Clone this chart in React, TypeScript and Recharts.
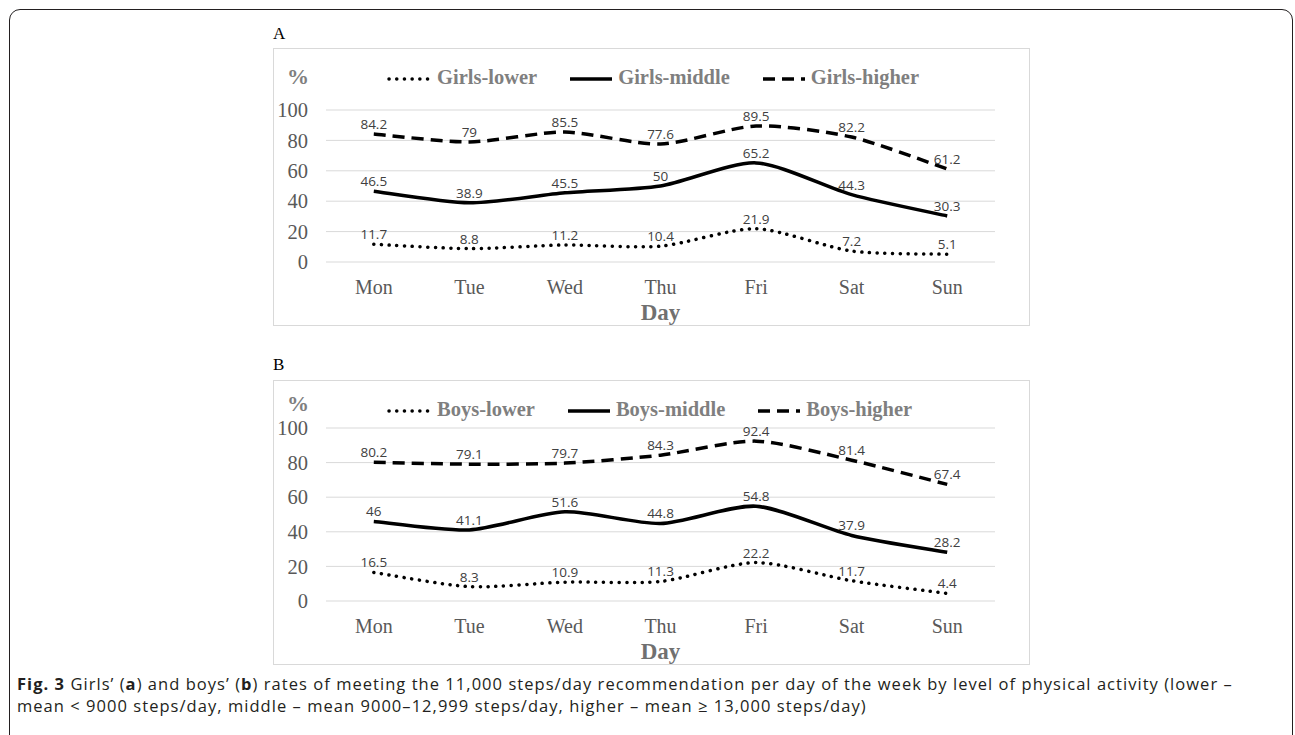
import { CartesianGrid, LabelList, Legend, Line, LineChart, XAxis, YAxis } from 'recharts';

const dias = ['Mon', 'Tue', 'Wed', 'Thu', 'Fri', 'Sat', 'Sun'];
const eixoY = [0, 20, 40, 60, 80, 100];

const meninasBaixo = [11.7, 8.8, 11.2, 10.4, 21.9, 7.2, 5.1];
const meninasMedio = [46.5, 38.9, 45.5, 50, 65.2, 44.3, 30.3];
const meninasAlto = [84.2, 79, 85.5, 77.6, 89.5, 82.2, 61.2];

const meninosBaixo = [16.5, 8.3, 10.9, 11.3, 22.2, 11.7, 4.4];
const meninosMedio = [46, 41.1, 51.6, 44.8, 54.8, 37.9, 28.2];
const meninosAlto = [80.2, 79.1, 79.7, 84.3, 92.4, 81.4, 67.4];

const nomesMeninas = ['Girls-lower', 'Girls-middle', 'Girls-higher'];
const nomesMeninos = ['Boys-lower', 'Boys-middle', 'Boys-higher'];

const chaves = ['lower', 'middle', 'higher'];

const montaDados = (baixo: number[], medio: number[], alto: number[]) =>
  dias.map((dia, i) => ({ dia, lower: baixo[i], middle: medio[i], higher: alto[i] }));

const estilos: Record<string, { dash?: string; cap: 'round' | 'butt' }> = {
  lower: { dash: '0.1 7.6', cap: 'round' },
  middle: { cap: 'butt' },
  higher: { dash: '12 7', cap: 'butt' },
};

// suavizacao tipo Excel (Catmull-Rom, um pouco mais tensa)
const TENSAO = 8;
const curvaSuave = (ctx: any) => {
  let pts: number[][] = [];
  return {
    areaStart() {},
    areaEnd() {},
    lineStart() {
      pts = [];
    },
    point(x: number, y: number) {
      pts.push([+x, +y]);
    },
    lineEnd() {
      if (!pts.length) return;
      ctx.moveTo(pts[0][0], pts[0][1]);
      for (let i = 0; i < pts.length - 1; i++) {
        const p0 = pts[i - 1] || pts[i];
        const p1 = pts[i];
        const p2 = pts[i + 1];
        const p3 = pts[i + 2] || p2;
        ctx.bezierCurveTo(
          p1[0] + (p2[0] - p0[0]) / TENSAO,
          p1[1] + (p2[1] - p0[1]) / TENSAO,
          p2[0] - (p3[0] - p1[0]) / TENSAO,
          p2[1] - (p3[1] - p1[1]) / TENSAO,
          p2[0],
          p2[1],
        );
      }
    },
  };
};

const SERIF = '"Liberation Serif", "Times New Roman", serif';
const CINZA = '#595959';

const Legenda = ({ payload, ajustePct }: any) => {
  const itens = [...(payload || [])].sort((a: any, b: any) => chaves.indexOf(a.dataKey) - chaves.indexOf(b.dataKey));
  return (
    <div style={{ position: 'relative', height: 30, lineHeight: '30px', fontFamily: SERIF }}>
      <span
        style={{ position: 'absolute', left: 13, top: ajustePct, fontSize: 22, fontWeight: 'bold', color: '#7f7f7f' }}
      >
        %
      </span>
      <div style={{ position: 'absolute', left: 113, top: 0, display: 'flex', alignItems: 'center' }}>
        {itens.map((item: any, i: number) => {
          const st = estilos[item.dataKey];
          return (
            <div key={i} style={{ display: 'flex', alignItems: 'center', marginRight: 31 }}>
              <svg width={46} height={30}>
                <line
                  x1={2}
                  x2={44}
                  y1={17}
                  y2={17}
                  stroke="#000"
                  strokeWidth={3.5}
                  strokeDasharray={st.dash}
                  strokeLinecap={st.cap}
                />
              </svg>
              <span style={{ marginLeft: 4, fontSize: 20.5, fontWeight: 'bold', color: '#7f7f7f' }}>{item.value}</span>
            </div>
          );
        })}
      </div>
    </div>
  );
};

const Grafico = ({
  dados,
  nomes,
  altura,
  topo,
  ajustePct,
}: {
  dados: any[];
  nomes: string[];
  altura: number;
  topo: number;
  ajustePct: number;
}) => (
  <LineChart width={755} height={altura} data={dados} margin={{ top: topo, right: 34, left: 2, bottom: 3 }}>
    <CartesianGrid stroke="#d9d9d9" vertical={false} />
    <XAxis
      dataKey="dia"
      scale="band"
      height={60}
      axisLine={false}
      tickLine={false}
      tickSize={10}
      tickMargin={8}
      tick={{ fontFamily: SERIF, fontSize: 20, fill: CINZA }}
      label={{
        value: 'Day',
        position: 'insideBottom',
        offset: 2,
        style: { fontFamily: SERIF, fontSize: 23, fontWeight: 'bold', fill: '#707070' },
      }}
    />
    <YAxis
      width={50}
      domain={[0, 100]}
      ticks={eixoY}
      axisLine={false}
      tickLine={false}
      tickSize={10}
      tickMargin={8}
      tick={{ fontFamily: SERIF, fontSize: 20.5, fill: CINZA }}
    />
    <Legend
      verticalAlign="middle"
      align="center"
      content={<Legenda ajustePct={ajustePct} />}
      wrapperStyle={{ top: 13, left: 0, width: 755 }}
    />
    {chaves.map((chave, i) => (
      <Line
        key={chave}
        type={curvaSuave as any}
        dataKey={chave}
        name={nomes[i]}
        stroke="#000"
        strokeWidth={3.5}
        strokeDasharray={estilos[chave].dash}
        strokeLinecap={estilos[chave].cap}
        dot={false}
        activeDot={false}
        isAnimationActive={false}
      >
        <LabelList
          dataKey={chave}
          position="top"
          offset={5}
          style={{ fontFamily: '"Open Sans", sans-serif', fontSize: 13.5, fill: '#404040' }}
        />
      </Line>
    ))}
  </LineChart>
);

const caixa = (top: number, height: number): React.CSSProperties => ({
  position: 'absolute',
  left: 273,
  top,
  width: 757,
  height,
  boxSizing: 'border-box',
  border: '1px solid #d9d9d9',
  background: '#fff',
});

const App = () => {
  const dadosA = montaDados(meninasBaixo, meninasMedio, meninasAlto);
  const dadosB = montaDados(meninosBaixo, meninosMedio, meninosAlto);

  return (
    <div style={{ position: 'absolute', left: 0, top: 0, width: 1295, height: 735, overflow: 'hidden', background: '#fff' }}>
      <div
        style={{
          position: 'absolute',
          left: 9,
          top: 9,
          width: 1284,
          height: 760,
          boxSizing: 'border-box',
          border: '1.5px solid #231f20',
          borderRadius: 11,
        }}
      />
      <div style={{ position: 'absolute', left: 273, top: 24, fontFamily: SERIF, fontSize: 17, color: '#000' }}>A</div>
      <div style={caixa(48, 278)}>
        <Grafico dados={dadosA} nomes={nomesMeninas} altura={276} topo={61} ajustePct={0} />
      </div>
      <div style={{ position: 'absolute', left: 273, top: 355, fontFamily: SERIF, fontSize: 17, color: '#000' }}>B</div>
      <div style={caixa(380, 285)}>
        <Grafico dados={dadosB} nomes={nomesMeninos} altura={283} topo={47} ajustePct={-5} />
      </div>
      <div
        style={{
          position: 'absolute',
          left: 17,
          top: 673,
          fontFamily: '"Open Sans", sans-serif',
          fontSize: 16.5,
          letterSpacing: 1.04,
          lineHeight: '22px',
          color: '#231f20',
          whiteSpace: 'nowrap',
        }}
      >
        <div>
          <b>Fig. 3</b> Girls’ (<b>a</b>) and boys’ (<b>b</b>) rates of meeting the 11,000 steps/day recommendation per day of the
          week by level of physical activity (lower –
        </div>
        <div>mean &lt; 9000 steps/day, middle – mean 9000–12,999 steps/day, higher – mean ≥ 13,000 steps/day)</div>
      </div>
    </div>
  );
};

export default App;
